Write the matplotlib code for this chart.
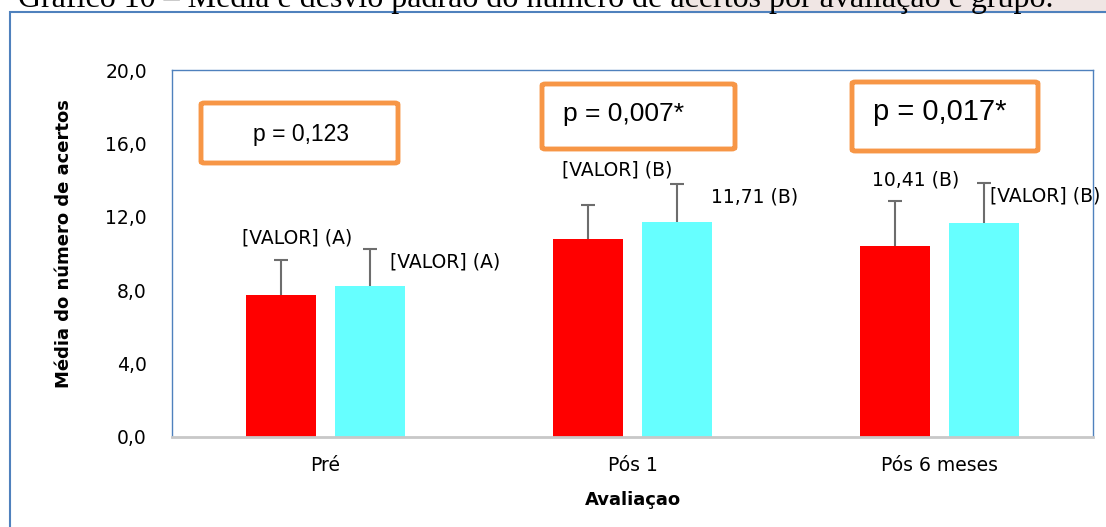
import numpy as np
import matplotlib.pyplot as plt
from matplotlib.patches import Rectangle, FancyBboxPatch

categories = ['Pré', 'Pós 1', 'Pós 6 meses']
red_mean = [7.74, 10.79, 10.41]
red_sd = [1.91, 1.87, 2.45]
cyan_mean = [8.25, 11.71, 11.65]
cyan_sd = [2.01, 2.08, 2.19]
red_labels = ['[VALOR] (A)', '[VALOR] (B)', '10,41 (B)']
cyan_labels = ['[VALOR] (A)', '11,71 (B)', '[VALOR] (B)']
p_texts = ['p = 0,123', 'p = 0,007*', 'p = 0,017*']
yticks = [0, 4, 8, 12, 16, 20]

W, H = 1106, 527
fig = plt.figure(figsize=(W / 100, H / 100), dpi=100)
ax = fig.add_axes([172 / W, 1 - 437 / H, 921 / W, 367 / H])

# title strip (cut off at top in the original)
fig.patches.append(Rectangle((680 / W, 1 - 12 / H), 426 / W, 12 / H,
                             transform=fig.transFigure, color='#f0e6e4', zorder=0))
fig.text(18 / W, 1 - 7 / H, 'Gráfico 10 – Média e desvio padrão do número de acertos por avaliação e grupo.',
         family='Liberation Serif', fontsize=23, va='baseline', ha='left')
# outer chart frame
fig.patches.append(Rectangle((9.5 / W, -0.1), 1.2, 1.1 - 12 / H, transform=fig.transFigure,
                             fill=False, ec='#4f81bd', lw=1.5))

x = np.arange(len(categories))
w = 0.225
off = 0.145
ax.bar(x - off, red_mean, w, color='#ff0000', zorder=2)
ax.bar(x + off, cyan_mean, w, color='#66ffff', zorder=2)
ekw = dict(fmt='none', ecolor='#6d6d6d', elinewidth=1.5, capsize=5, capthick=1.5, zorder=3)
for xs, m, sd in [(x - off, red_mean, red_sd), (x + off, cyan_mean, cyan_sd)]:
    eb = ax.errorbar(xs, m, yerr=[np.zeros(3), sd], **ekw)
    eb[1][0].set_visible(False)  # no cap at the bar top

# data labels (offsets in points from the error bar top)
red_off = [(11.5, 16), (21, 25), (15, 15)]
cyan_off = [(54, -9.5), (56, -9.5), (44, -9)]
for i in range(3):
    ax.annotate(red_labels[i], (x[i] - off, red_mean[i] + red_sd[i]), xytext=red_off[i],
                textcoords='offset points', ha='center', va='center', fontsize=13.5)
    ax.annotate(cyan_labels[i], (x[i] + off, cyan_mean[i] + cyan_sd[i]), xytext=cyan_off[i],
                textcoords='offset points', ha='center', va='center', fontsize=13.5)

# p-value boxes
boxes = [(201, 103, 197, 60, 16.5), (542, 84, 193, 65, 19), (852, 82, 186, 69, 21)]
for (bx, by, bw, bh, fs), t in zip(boxes, p_texts):
    fig.patches.append(FancyBboxPatch((bx / W, 1 - (by + bh) / H), bw / W, bh / H,
                                      boxstyle='round,pad=0,rounding_size=0.003',
                                      transform=fig.transFigure, fill=False,
                                      ec='#f79646', lw=3.5, zorder=5))
    if fs < 18:
        fig.text((bx + 52) / W, 1 - (by + 32) / H, t, family='Liberation Sans',
                 fontsize=fs, ha='left', va='center')
    else:
        fig.text((bx + 21) / W, 1 - (by + 30) / H, t, family='Liberation Sans',
                 fontsize=fs, ha='left', va='center')

ax.set_xlim(-0.5, 2.5)
ax.set_ylim(0, 20)
ax.set_yticks(yticks)
ax.set_yticklabels([f'{v:.1f}'.replace('.', ',') for v in yticks], fontsize=13.5)
ax.set_xticks(x)
ax.set_xticklabels(categories, fontsize=13.5)
ax.tick_params(axis='x', length=0, pad=14)
ax.tick_params(axis='y', length=0, pad=18)
for s in ['top', 'right', 'left']:
    ax.spines[s].set_color('#4f81bd')
    ax.spines[s].set_linewidth(1)
ax.spines['bottom'].set_color('#c8c8c8')
ax.spines['bottom'].set_linewidth(2)

fig.text(633 / W, 1 - 500 / H, 'Avaliaçao', fontsize=13, fontweight='bold', ha='center', va='center')
fig.text(64 / W, 1 - 244 / H, 'Média do número de acertos', fontsize=13, fontweight='bold',
         rotation=90, ha='center', va='center')

fig.savefig('out.png', dpi=100)
